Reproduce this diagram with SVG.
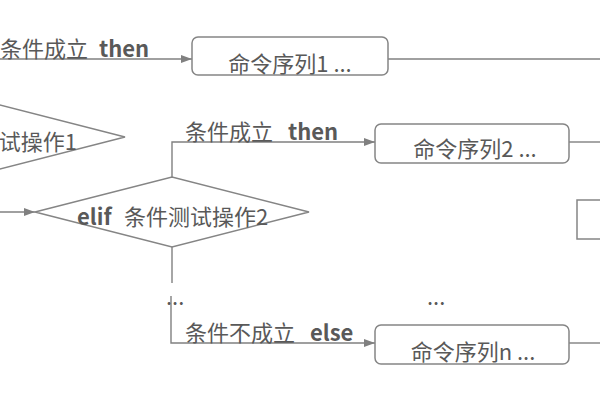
<svg xmlns="http://www.w3.org/2000/svg" width="600" height="400" viewBox="0 0 600 400">
  <style>
    .ln { fill: none; stroke: #808080; stroke-width: 1.4; }
    .box { fill: #ffffff; stroke: #858585; stroke-width: 1.5; }
    .txt { font-family: "Noto Sans CJK SC", "Noto Sans", sans-serif; font-size: 22px; fill: #595959; }
    .b { font-weight: bold; }
  </style>
  <defs>
    <marker id="arr" markerUnits="userSpaceOnUse" markerWidth="12" markerHeight="9" refX="11" refY="4" orient="auto">
      <path d="M0,0 L11,4 L0,8 Z" fill="#808080"/>
    </marker>
  </defs>
  <rect width="600" height="400" fill="#ffffff"/>

  <g id="connectors">
    <line class="ln" x1="0" y1="59" x2="192" y2="59" marker-end="url(#arr)"/>
    <line class="ln" x1="388" y1="59" x2="600" y2="59"/>
    <line class="ln" x1="0" y1="212" x2="35" y2="212" marker-end="url(#arr)"/>
    <path class="ln" d="M172,177 V142 H375" marker-end="url(#arr)"/>
    <line class="ln" x1="569" y1="142" x2="600" y2="142"/>
    <line class="ln" x1="172" y1="247" x2="172" y2="283"/>
    <path class="ln" d="M171,296 V343 H375" marker-end="url(#arr)"/>
    <line class="ln" x1="569" y1="343" x2="600" y2="343"/>
  </g>

  <g id="cond1">
    <polygon class="box" points="-149,137 -12,102 125,137 -12,172"/>
    <text class="txt" x="77" y="150" text-anchor="end">if 条件测试操作1</text>
  </g>

  <g id="cond2">
    <polygon class="box" points="35,212 172,177 309,212 172,247"/>
    <text class="txt" y="225"><tspan class="b" x="77">elif</tspan><tspan x="124">条件测试操作2</tspan></text>
  </g>

  <g id="cmd1">
    <rect class="box" x="192" y="37" width="196" height="38" rx="6"/>
    <text class="txt" x="290" y="72" text-anchor="middle">命令序列1 ...</text>
  </g>

  <g id="cmd2">
    <rect class="box" x="375" y="124" width="194" height="39" rx="6"/>
    <text class="txt" x="475" y="157" text-anchor="middle">命令序列2 ...</text>
  </g>

  <g id="cmdn">
    <rect class="box" x="375" y="325" width="194" height="39" rx="6"/>
    <text class="txt" x="473" y="360" text-anchor="middle">命令序列n ...</text>
  </g>

  <g id="right-box">
    <rect class="box" x="577" y="200" width="40" height="39"/>
  </g>

  <g id="labels">
    <text class="txt" y="57"><tspan x="0">条件成立</tspan><tspan class="b" x="99">then</tspan></text>
    <text class="txt" y="140"><tspan x="185">条件成立</tspan><tspan class="b" x="288">then</tspan></text>
    <text class="txt" y="341"><tspan x="185">条件不成立</tspan><tspan class="b" x="310">else</tspan></text>
    <text class="txt" x="166" y="305">...</text>
    <text class="txt" x="427" y="305">...</text>
  </g>
</svg>
